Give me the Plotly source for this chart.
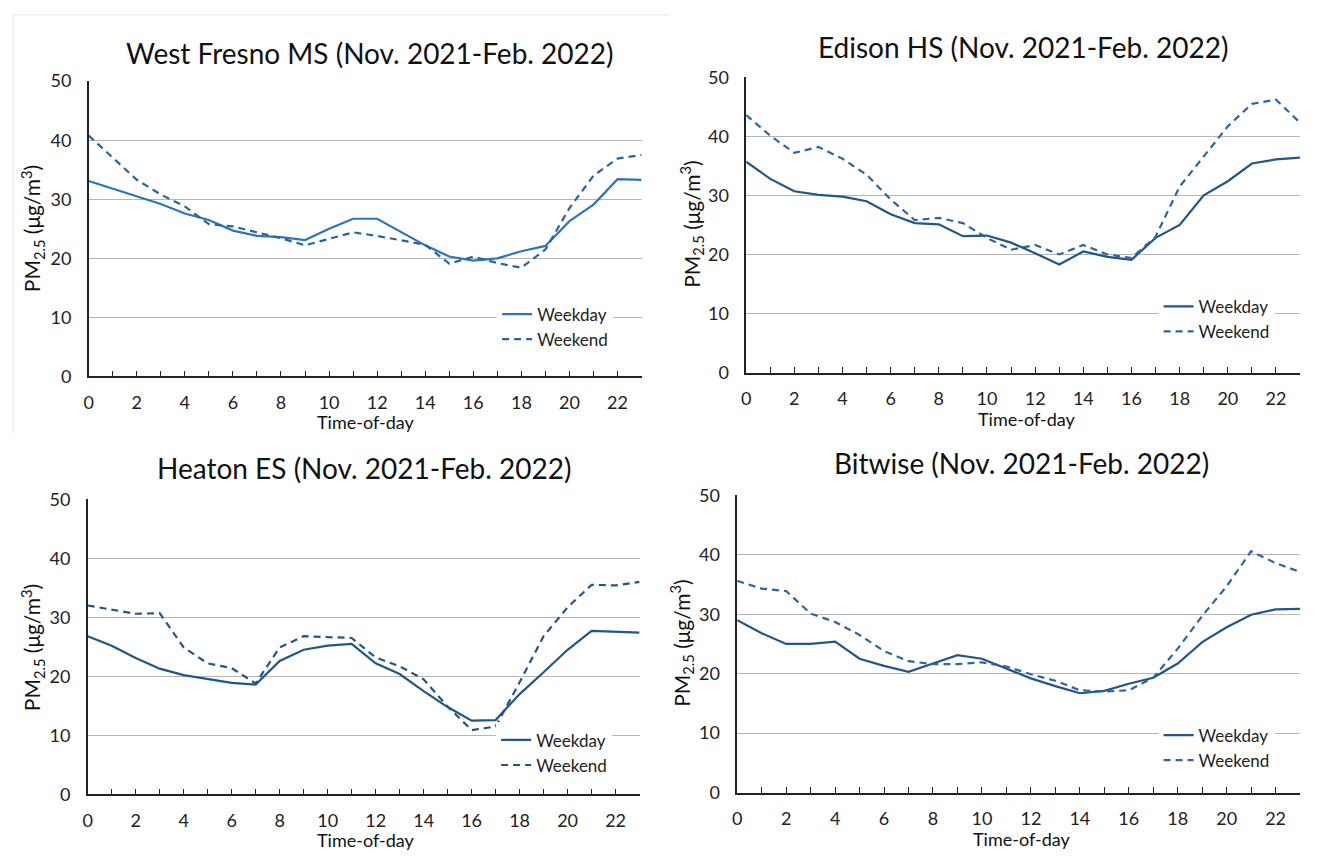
import plotly.graph_objects as go

hours = list(range(24))
tick_vals = list(range(24))
tick_text = [str(h) if h % 2 == 0 else "" for h in hours]

titles = [
    "West Fresno MS (Nov. 2021-Feb. 2022)",
    "Edison HS (Nov. 2021-Feb. 2022)",
    "Heaton ES (Nov. 2021-Feb. 2022)",
    "Bitwise (Nov. 2021-Feb. 2022)",
]

west_fresno_weekday = [33.1, 31.8, 30.6, 29.2, 27.6, 26.5, 24.7, 23.8, 23.6, 23.1, 25.0, 26.7,
                       26.7, 24.5, 22.2, 20.3, 19.6, 20.0, 21.2, 22.1, 26.3, 29.1, 33.4, 33.3]
west_fresno_weekend = [40.8, 37.0, 33.3, 30.8, 28.8, 25.8, 25.4, 24.4, 23.4, 22.2, 23.3, 24.4,
                       23.8, 23.0, 22.3, 19.1, 20.3, 19.2, 18.4, 21.5, 28.5, 34.0, 36.9, 37.5]

edison_weekday = [35.7, 32.8, 30.7, 30.1, 29.8, 29.0, 26.8, 25.3, 25.1, 23.1, 23.2, 22.0,
                  20.2, 18.3, 20.5, 19.6, 19.1, 22.8, 25.0, 30.0, 32.4, 35.4, 36.1, 36.4]
edison_weekend = [43.6, 40.1, 37.2, 38.2, 36.2, 33.5, 29.3, 25.8, 26.2, 25.3, 22.8, 20.8,
                  21.6, 20.0, 21.6, 20.0, 19.4, 23.0, 31.5, 36.5, 41.7, 45.5, 46.2, 42.3]

heaton_weekday = [26.8, 25.2, 23.1, 21.3, 20.2, 19.6, 18.9, 18.6, 22.6, 24.5, 25.2, 25.5,
                  22.2, 20.4, 17.5, 14.8, 12.5, 12.6, 17.0, 20.7, 24.5, 27.7, 27.5, 27.4]
heaton_weekend = [32.0, 31.3, 30.6, 30.7, 24.9, 22.2, 21.4, 18.8, 24.9, 26.8, 26.6, 26.5,
                  23.2, 21.7, 19.5, 14.9, 10.9, 11.5, 19.0, 26.8, 31.7, 35.5, 35.4, 36.0]

bitwise_weekday = [29.0, 26.8, 25.0, 25.0, 25.4, 22.5, 21.3, 20.3, 21.7, 23.1, 22.5, 20.9,
                   19.2, 17.9, 16.7, 17.1, 18.3, 19.3, 21.7, 25.3, 27.8, 29.9, 30.8, 30.9]
bitwise_weekend = [35.6, 34.3, 33.9, 30.1, 28.7, 26.5, 23.8, 22.1, 21.6, 21.6, 21.9, 21.2,
                   19.9, 18.8, 17.2, 17.0, 17.2, 19.3, 24.2, 29.7, 34.7, 40.6, 38.6, 37.1]

series = [
    (west_fresno_weekday, west_fresno_weekend),
    (edison_weekday, edison_weekend),
    (heaton_weekday, heaton_weekend),
    (bitwise_weekday, bitwise_weekend),
]

W, H = 1319, 860
FONT = "Lato"

# plot-area pixel boxes: (x_left, x_right, y_top, y_bottom)
boxes = [
    (84, 639, 71, 374),
    (744, 1300, 67, 370),
    (83, 637, 500, 803),
    (735, 1300, 496, 801),
]
title_pos = [(366, 42), (1022, 36), (360, 468), (1020, 463)]
ytitle_pos = [(27, 222), (689, 218), (27, 652), (679, 648)]
xtitle_pos = [(362, 421), (1025, 418), (362, 850), (1020, 849)]
legend_pos = [(494, 292), (1158, 284), (493, 729), (1158, 724)]

solid_colors = ["#2E75B6", "#245587", "#245587", "#245587"]
dash_colors = ["#2A64A0", "#2E64A0", "#245587", "#2E64A0"]

fig = go.Figure()
annotations = []
layout = dict(
    width=W, height=H,
    margin=dict(l=0, r=0, t=0, b=0),
    paper_bgcolor="white", plot_bgcolor="white",
    font=dict(family=FONT, size=15, color="#222222"),
)

for i, (wd, we) in enumerate(series):
    n = i + 1
    xa = "x" if n == 1 else f"x{n}"
    ya = "y" if n == 1 else f"y{n}"
    lg = "legend" if n == 1 else f"legend{n}"
    fig.add_trace(go.Scatter(x=hours, y=wd, mode="lines", name="Weekday",
                             line=dict(color=solid_colors[i], width=2.2),
                             xaxis=xa, yaxis=ya, legend=lg))
    fig.add_trace(go.Scatter(x=hours, y=we, mode="lines", name="Weekend",
                             line=dict(color=dash_colors[i], width=2.2, dash="7px,5px"),
                             xaxis=xa, yaxis=ya, legend=lg))
    xl, xr, yt, yb = boxes[i]
    xkey = "xaxis" if n == 1 else f"xaxis{n}"
    ykey = "yaxis" if n == 1 else f"yaxis{n}"
    layout[xkey] = dict(
        domain=[xl / W, xr / W], anchor=ya, range=[0, 23],
        tickvals=tick_vals, ticktext=tick_text, ticks="inside", ticklen=6,
        tickcolor="#222222", tickwidth=1.2,
        showline=True, linecolor="#222222", linewidth=1.5,
        showgrid=False, zeroline=False,
        tickfont=dict(family=FONT, size=18, color="#222222"),
        ticklabelstandoff=9,
    )
    layout[ykey] = dict(
        domain=[1 - yb / H, 1 - yt / H], anchor=xa, range=[0, 50],
        tickvals=[0, 10, 20, 30, 40, 50], ticks="",
        showline=True, linecolor="#222222", linewidth=1.5,
        showgrid=True, gridcolor="#b5b5b5", gridwidth=1.2, zeroline=False,
        tickfont=dict(family=FONT, size=18, color="#222222"),
        ticklabelstandoff=12,
    )
    lx, ly = legend_pos[i]
    layout[lg] = dict(
        x=lx / W, y=1 - ly / H, xanchor="left", yanchor="top",
        bgcolor="white", borderwidth=0,
        font=dict(family=FONT, size=17, color="#222222"),
        tracegroupgap=0, itemwidth=30,
    )
    tx, ty = title_pos[i]
    annotations.append(dict(text=titles[i], x=tx / W, y=1 - ty / H, xref="paper", yref="paper",
                            xanchor="center", yanchor="middle", showarrow=False,
                            font=dict(family=FONT, size=28, color="#111111")))
    yx, yy = ytitle_pos[i]
    annotations.append(dict(text="PM<sub>2.5</sub> (μg/m<sup>3</sup>)", x=yx / W, y=1 - yy / H,
                            xref="paper", yref="paper", xanchor="center", yanchor="middle",
                            textangle=-90, showarrow=False,
                            font=dict(family=FONT, size=21, color="#111111")))
    xx, xy = xtitle_pos[i]
    annotations.append(dict(text="Time-of-day", x=xx / W, y=1 - xy / H, xref="paper", yref="paper",
                            xanchor="center", yanchor="middle", showarrow=False,
                            font=dict(family=FONT, size=18, color="#111111")))

layout["annotations"] = annotations
layout["shapes"] = [
    dict(type="line", xref="paper", yref="paper", x0=8 / W, x1=668 / W, y0=1 - 3 / H, y1=1 - 3 / H,
         line=dict(color="#e3e3e3", width=1)),
    dict(type="line", xref="paper", yref="paper", x0=8 / W, x1=8 / W, y0=1 - 3 / H, y1=1 - 432 / H,
         line=dict(color="#e3e3e3", width=1)),
]
fig.update_layout(**layout)
fig.write_html("out.html")
